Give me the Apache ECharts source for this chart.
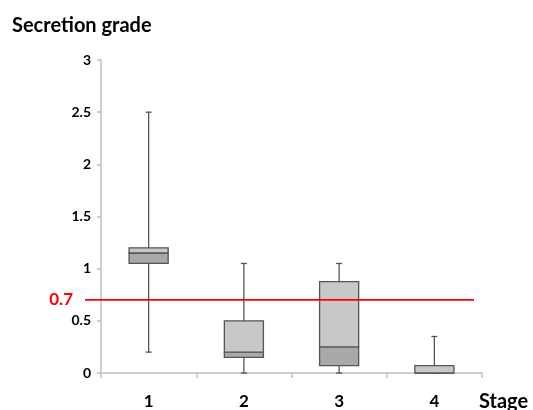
<!DOCTYPE html>
<html>
<head>
<meta charset="utf-8">
<script src="https://cdn.jsdelivr.net/npm/echarts@6/dist/echarts.min.js"></script>
<style>
  html, body { margin: 0; padding: 0; background: #fff; }
  #main { width: 533px; height: 410px; }
</style>
</head>
<body>
<div id="main"></div>
<script>
// stages on the x axis
var categories = ['1', '2', '3', '4'];
// box plot values per stage
var whiskerMin = [0.2, 0, 0, 0];
var q1Values = [1.05, 0.15, 0.07, 0];
var medianValues = [1.15, 0.2, 0.25, 0];
var q3Values = [1.2, 0.5, 0.875, 0.07];
var whiskerMax = [2.5, 1.05, 1.05, 0.35];
// threshold line
var threshold = 0.7;

var fontFamily = 'Lato, "Open Sans", sans-serif';

var boxData = [];
for (var i = 0; i < categories.length; i++) {
    boxData.push([i, whiskerMin[i], q1Values[i], medianValues[i], q3Values[i], whiskerMax[i]]);
}

var myChart = echarts.init(document.getElementById('main'));

var option = {
    animation: false,
    title: {
        text: 'Secretion grade',
        left: 7,
        top: 11,
        textStyle: { fontFamily: fontFamily, fontWeight: 'bold', fontSize: 20, color: '#000' }
    },
    grid: { left: 101, right: 51, top: 60, bottom: 37, containLabel: false, outerBoundsMode: 'none' },
    xAxis: {
        type: 'category',
        data: categories,
        name: 'Stage',
        nameLocation: 'end',
        nameGap: -3,
        nameTextStyle: {
            fontFamily: fontFamily, fontWeight: 'bold', fontSize: 20, color: '#000',
            align: 'left', verticalAlign: 'top', padding: [19, 0, 0, 0]
        },
        axisLine: { lineStyle: { color: '#c0c0c0', width: 1.5 } },
        axisTick: { show: true, alignWithLabel: false, length: 5, lineStyle: { color: '#c0c0c0', width: 1.5 } },
        axisLabel: { margin: 20, fontFamily: fontFamily, fontWeight: 'bold', fontSize: 17, color: '#000' },
        splitLine: { show: false }
    },
    yAxis: {
        type: 'value',
        min: 0,
        max: 3,
        interval: 0.5,
        axisLine: { show: true, lineStyle: { color: '#c0c0c0', width: 1.5 } },
        axisTick: { show: true, length: 4, lineStyle: { color: '#c0c0c0', width: 1.5 } },
        axisLabel: { margin: 10, fontFamily: fontFamily, fontWeight: 'bold', fontSize: 14, color: '#000' },
        splitLine: { show: false }
    },
    series: [
        {
            type: 'custom',
            data: boxData,
            encode: { x: 0, y: [1, 2, 3, 4, 5] },
            renderItem: function (params, api) {
                var x = api.value(0);
                var pMin = api.coord([x, api.value(1)]);
                var pQ1 = api.coord([x, api.value(2)]);
                var pMed = api.coord([x, api.value(3)]);
                var pQ3 = api.coord([x, api.value(4)]);
                var pMax = api.coord([x, api.value(5)]);
                var band = api.size([1, 0])[0];
                var bw = band * 0.41;
                var cx = pMin[0];
                var cap = 3;
                var lineStyle = { stroke: '#555', lineWidth: 1.3 };
                return {
                    type: 'group',
                    children: [
                        { type: 'line', shape: { x1: cx, y1: pMin[1], x2: cx, y2: pMax[1] }, style: lineStyle },
                        { type: 'line', shape: { x1: cx - cap, y1: pMax[1], x2: cx + cap, y2: pMax[1] }, style: lineStyle },
                        { type: 'line', shape: { x1: cx - cap, y1: pMin[1], x2: cx + cap, y2: pMin[1] }, style: lineStyle },
                        {
                            type: 'rect',
                            shape: { x: cx - bw / 2, y: pMed[1], width: bw, height: pQ1[1] - pMed[1] },
                            style: { fill: '#a9a9a9', stroke: '#555', lineWidth: 1.3 }
                        },
                        {
                            type: 'rect',
                            shape: { x: cx - bw / 2, y: pQ3[1], width: bw, height: pMed[1] - pQ3[1] },
                            style: { fill: '#c8c8c8', stroke: '#555', lineWidth: 1.3 }
                        }
                    ]
                };
            }
        },
        {
            type: 'custom',
            data: [[0, threshold]],
            encode: { x: 0, y: 1 },
            clip: false,
            z: 5,
            renderItem: function (params, api) {
                var p = api.coord([0, api.value(1)]);
                var cs = params.coordSys;
                var x1 = cs.x - 16;
                var x2 = cs.x + cs.width - 8;
                return {
                    type: 'group',
                    children: [
                        {
                            type: 'line',
                            shape: { x1: x1, y1: p[1], x2: x2, y2: p[1] },
                            style: { stroke: '#ff0000', lineWidth: 1.8 }
                        },
                        {
                            type: 'text',
                            style: {
                                text: String(api.value(1)),
                                x: x1 - 12,
                                y: p[1],
                                align: 'right',
                                verticalAlign: 'middle',
                                fill: '#ff0000',
                                font: 'bold 17px ' + fontFamily
                            }
                        }
                    ]
                };
            }
        }
    ]
};

myChart.setOption(option);
</script>
</body>
</html>
